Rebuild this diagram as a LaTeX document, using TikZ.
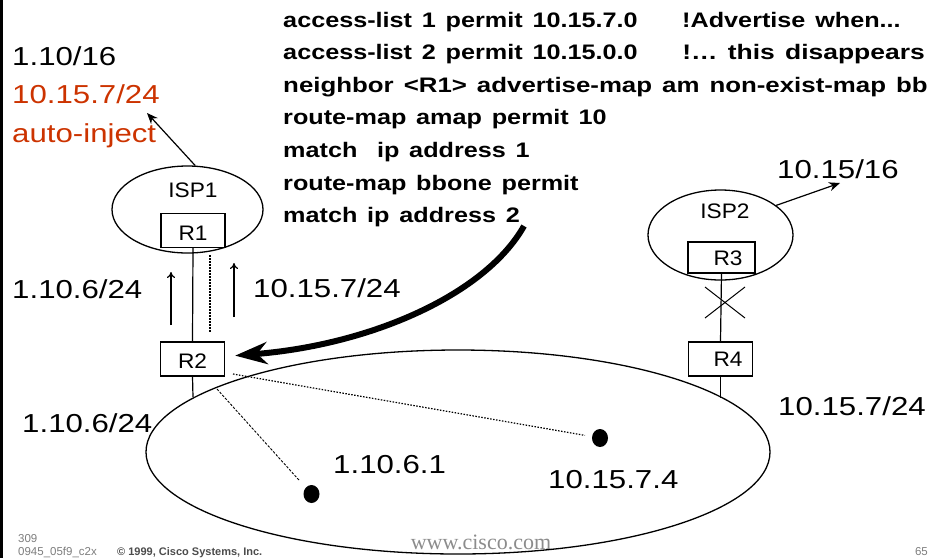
\documentclass[tikz,border=0pt]{standalone}
\usepackage{fontspec}
\setmainfont{Liberation Sans}
\newfontfamily\cfgfont[WordSpace=1.4]{Liberation Sans}
\newfontfamily\webserif{Liberation Serif}
\usetikzlibrary{arrows.meta,shapes.geometric}
\definecolor{injred}{RGB}{204,51,0}
\definecolor{footgray}{RGB}{125,125,125}
\definecolor{webgray}{RGB}{140,140,140}

\begin{document}
\begin{tikzpicture}[x=1pt,y=-1pt,
  lab/.style={font=\fontsize{26}{26}\selectfont, xscale=1.2, inner sep=0pt, anchor=base west},
  cfg/.style={font=\cfgfont\bfseries\fontsize{21}{21}\selectfont, xscale=1.2, inner sep=0pt, anchor=base west},
  lbl/.style={font=\fontsize{21}{21}\selectfont, xscale=1.08, inner sep=0pt, anchor=base},
  rbox/.style={draw, line width=1.3pt, fill=white, minimum width=64pt, minimum height=34pt, inner sep=0pt},
  netoval/.style={draw, ellipse, line width=1.3pt, inner sep=0pt},
  host/.style={fill, ellipse, minimum width=16pt, minimum height=18pt, inner sep=0pt},
  foot/.style={font=\fontsize{11.5}{11.5}\selectfont, text=footgray, inner sep=0pt, anchor=base west},
  wire/.style={line width=1.2pt},
  upar/.style={line width=1.2pt, -{To[length=6pt,width=8pt]}},
  ptr/.style={line width=1.2pt, -{Stealth[length=11pt,width=9pt]}},
  trace/.style={line width=1.2pt, dash pattern=on 1.5pt off 1.5pt},
]
\useasboundingbox (0,0) rectangle (937,558);

% left margin rule
\fill (0,0) rectangle (3,558);

% networks
\node[netoval, minimum width=151pt, minimum height=87pt] (isp1) at (187.5,209.5) {};
\node[netoval, minimum width=145pt, minimum height=90pt] (isp2) at (720.5,235) {};
\node[netoval, minimum width=624pt, minimum height=204pt] (lan) at (458,452) {};

% routers
\node[rbox] (r1) at (193,230.5) {};
\node[rbox] (r2) at (192.5,359) {};
\node[rbox, minimum width=67pt, minimum height=31pt] (r3) at (721.5,257.5) {};
\node[rbox] (r4) at (720.5,359) {};

\node[lbl] (isp1t) at (193,197) {ISP1};
\node[lbl] (r1t) at (193,240) {R1};
\node[lbl] (r2t) at (192.5,368) {R2};
\node[lbl] (isp2t) at (725,218) {ISP2};
\node[lbl] (r3t) at (728,265) {R3};
\node[lbl] (r4t) at (728,366) {R4};

% hosts
\node[host] (h1) at (311.5,494) {};
\node[host] (h2) at (600,438) {};

% links
\coordinate (lanA) at (193,397);
\coordinate (lanB) at (720.5,398);
\draw[wire] (r1.south) -- (r2.north);
\draw[wire] (r2.south) -- (lanA);
\draw[wire] (r3.south) -- (r4.north);
\draw[wire] (r4.south) -- (lanB);

% broken link mark
\coordinate (xa) at (705,287); \coordinate (xb) at (745,318);
\coordinate (xc) at (705,318); \coordinate (xd) at (745,287);
\draw[line width=1pt] (xa) -- (xb) (xc) -- (xd);

% advertisement arrows
\coordinate (ua1s) at (171,325); \coordinate (ua1e) at (171,272);
\coordinate (ua2s) at (234,317); \coordinate (ua2e) at (234,263);
\draw[upar] (ua1s) -- (ua1e);
\draw[upar] (ua2s) -- (ua2e);
\coordinate (dv1) at (210,255); \coordinate (dv2) at (210,333);
\draw[trace] (dv1) -- (dv2);

\coordinate (injtip) at (147,113);
\draw[ptr] (isp1.80) -- (injtip);
\coordinate (bbtip) at (840,183);
\draw[ptr] (isp2.28) -- (bbtip);

% traffic paths inside the site
\coordinate (trA) at (233,374);
\draw[trace, shorten >=7pt] (trA) -- (h2);
\coordinate (trB) at (217,389);
\draw[line width=0.9pt, dash pattern=on 2.5pt off 1.5pt, shorten >=9pt] (trB) -- (h1);

% configuration pointer
\coordinate (cs) at (524,226);
\draw[line width=6pt, -{Stealth[length=32pt,width=22pt,inset=10pt]}, shorten >=10pt]
  (cs) .. controls (485,295) and (370,345) .. (r2);

% prefixes
\node[lab] (p1) at (12,65) {1.10/16};
\node[lab, text=injred] (p2) at (12,103) {10.15.7/24};
\node[lab, text=injred] (p3) at (12,142) {auto-inject};
\node[lab] (p4) at (12,298) {1.10.6/24};
\node[lab] (p5) at (253,297) {10.15.7/24};
\node[lab] (p6) at (22,432) {1.10.6/24};
\node[lab] (p7) at (333,473) {1.10.6.1};
\node[lab] (p8) at (548,488) {10.15.7.4};
\node[lab] (p9) at (778,415) {10.15.7/24};
\node[lab] (p10) at (777,178) {10.15/16};

% configuration
\node[cfg] (c1) at (283,27) {access-list 1 permit 10.15.7.0};
\node[cfg] (c1n) at (682,27) {!Advertise when...};
\node[cfg] (c2) at (283,59.6) {access-list 2 permit 10.15.0.0};
\node[cfg, xscale=1.05] (c2n) at (682,59.6) {!… this disappears};
\node[cfg, xscale=1.025] (c3) at (283,92.2) {neighbor <R1> advertise-map am non-exist-map bb};
\node[cfg] (c4) at (283,124.8) {route-map amap permit 10};
\node[cfg] (c5) at (283,157.4) {match\ \ ip address 1};
\node[cfg] (c6) at (283,190) {route-map bbone permit};
\node[cfg] (c7) at (283,222.6) {match ip address 2};

% footer
\node[foot] (f1) at (18,542) {309};
\node[foot] (f2) at (18,555) {0945\_05f9\_c2x};
\node[foot, font=\bfseries\fontsize{11}{11}\selectfont, text=black!70] (f3) at (117,555) {© 1999, Cisco Systems, Inc.};
\node[font=\webserif\fontsize{22}{22}\selectfont, text=webgray, inner sep=0pt, anchor=base] (f4) at (481,549) {www.cisco.com};
\node[foot, anchor=base east] (f5) at (928,555) {65};
\end{tikzpicture}
\end{document}
